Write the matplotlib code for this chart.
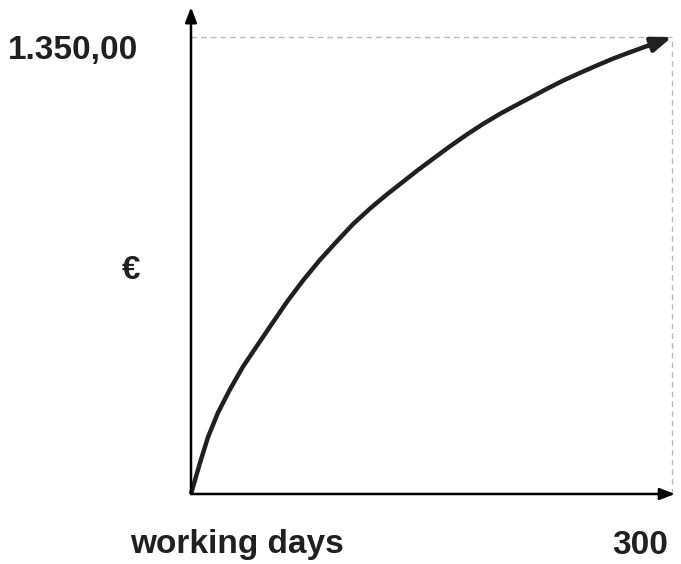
import matplotlib
matplotlib.use('Agg')
import matplotlib.pyplot as plt

# curve: working days -> euro
days = [0, 5.6, 10.6, 16.8, 24.3, 32.4, 41.2, 50.5, 59.9, 69.9, 80.5, 91.1,
        101.0, 111.6, 122.2, 133.5, 141.0, 150.9, 161.5, 172.1, 182.1,
        192.7, 203.3, 213.3, 222.0, 232.0, 242.6, 253.2, 263.2, 273.8, 300]
euro = [0, 92, 168, 240, 309, 376, 438, 503, 568, 631, 692, 747,
        797, 843, 885, 927, 955, 990, 1027, 1062, 1093,
        1123, 1150, 1175, 1197, 1221, 1244, 1266, 1286, 1305, 1350]

x_max = 300
y_max = 1350
y_label = '1.350,00'
x_label = '300'

plt.rcParams['font.family'] = ['Liberation Sans', 'DejaVu Sans']
ink = '#231f20'

fig = plt.figure(figsize=(6.81, 5.64), dpi=100)
W, H = 681, 564
# origin at (191, 494) px, top-right at (672, 37) px
ax = fig.add_axes([191 / W, (H - 494) / H, 481 / W, 457 / H])
ax.set_xlim(0, x_max)
ax.set_ylim(0, y_max)
ax.axis('off')

# guides to the end value
ax.plot([0, x_max], [y_max, y_max], color='#b8b8b8', lw=1.0,
        dashes=(4, 3), clip_on=False)
ax.plot([x_max, x_max], [0, y_max], color='#b8b8b8', lw=1.0,
        dashes=(4, 3), clip_on=False)

# axes as arrows
axis_style = dict(arrowstyle='-|>,head_length=0.9,head_width=0.35',
                  color='black', lw=1.8, shrinkA=0, shrinkB=0)
ax.annotate('', xy=(x_max * 1.006, 0), xytext=(0, 0),
            arrowprops=axis_style, annotation_clip=False)
ax.annotate('', xy=(0, y_max * 1.065), xytext=(0, 0),
            arrowprops=axis_style, annotation_clip=False)

# the curve with arrow head
ax.plot(days[:-1], euro[:-1], color=ink, lw=3.2, solid_capstyle='butt',
        solid_joinstyle='round', clip_on=False)
ax.annotate('', xy=(days[-1], euro[-1]), xytext=(days[-2], euro[-2]),
            arrowprops=dict(arrowstyle='-|>,head_length=1.2,head_width=0.45',
                            color=ink, lw=3.2, shrinkA=0, shrinkB=0),
            annotation_clip=False)

txt = dict(fontsize=24, fontweight='bold', color='#231f20')
fig.text(8 / W, 1 - 50 / H, y_label, ha='left', va='center', **txt)
fig.text(131 / W, 1 - 270 / H, '€', ha='center', va='center', **txt)
fig.text(130 / W, 1 - 545 / H, 'working days', ha='left', va='center', **txt)
fig.text(668 / W, 1 - 545 / H, x_label, ha='right', va='center', **txt)

fig.savefig('out.png', dpi=100)
